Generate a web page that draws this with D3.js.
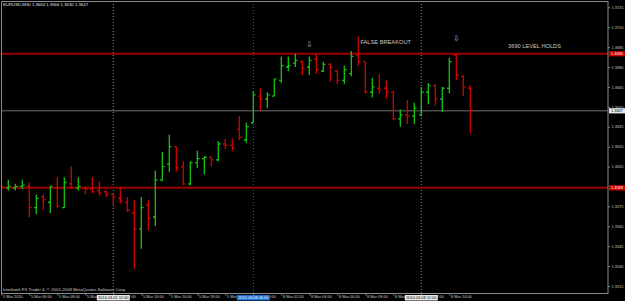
<!DOCTYPE html>
<html>
<head>
<meta charset="utf-8">
<script src="https://cdn.jsdelivr.net/npm/d3@7/dist/d3.min.js"></script>
<style>
  html, body { margin: 0; padding: 0; background: #000; }
  svg { display: block; }
  text { font-family: "Liberation Sans", Arial, sans-serif; }
</style>
</head>
<body>
<div id="chart"></div>
<script>
// EURUSD M30 bars, 5 Mar 04:00 -> 8 Mar 15:30
var opens  = [1.3593,1.3589,1.3589,1.3590,1.3590,1.3574,1.3582,1.3578,1.3589,1.3574,1.3592,1.3589,1.3589,1.3588,1.3587,1.3586,1.3584,1.3581,1.3578,1.3570,
              1.3558,1.3576,1.3567,1.3595,1.3607,1.3620,1.3605,1.3592,1.3608,1.3611,1.3612,1.3610,1.3622,1.3621,1.3633,1.3625,1.3638,1.3658,1.3656,1.3658,
              1.3670,1.3680,1.3683,1.3684,1.3680,1.3686,1.3677,1.3682,1.3677,1.3670,1.3675,1.3689,1.3684,1.3661,1.3664,1.3664,1.3661,1.3641,1.3644,1.3643,
              1.3644,1.3661,1.3666,1.3656,1.3664,1.3689,1.3673,1.3664];
var highs  = [1.3595,1.3595,1.3592,1.3595,1.3593,1.3584,1.3584,1.3590,1.3597,1.3597,1.3605,1.3597,1.3590,1.3597,1.3594,1.3587,1.3584,1.3589,1.3582,1.3580,
              1.3582,1.3580,1.3602,1.3616,1.3629,1.3620,1.3609,1.3609,1.3617,1.3613,1.3612,1.3624,1.3626,1.3626,1.3643,1.3638,1.3662,1.3664,1.3661,1.3671,
              1.3688,1.3688,1.3690,1.3685,1.3688,1.3690,1.3684,1.3683,1.3678,1.3681,1.3692,1.3703,1.3684,1.3672,1.3675,1.3670,1.3662,1.3648,1.3655,1.3653,
              1.3665,1.3668,1.3667,1.3665,1.3687,1.3690,1.3674,1.3666];
var lows   = [1.3587,1.3587,1.3587,1.3588,1.3567,1.3569,1.3572,1.3570,1.3574,1.3574,1.3588,1.3587,1.3584,1.3585,1.3583,1.3582,1.3576,1.3577,1.3571,1.3528,
              1.3543,1.3557,1.3560,1.3594,1.3601,1.3601,1.3591,1.3591,1.3604,1.3599,1.3605,1.3609,1.3618,1.3617,1.3625,1.3623,1.3638,1.3647,1.3649,1.3658,
              1.3668,1.3677,1.3680,1.3674,1.3674,1.3675,1.3676,1.3669,1.3667,1.3667,1.3673,1.3681,1.3660,1.3657,1.3660,1.3656,1.3640,1.3635,1.3637,1.3637,
              1.3643,1.3652,1.3651,1.3646,1.3660,1.3670,1.3658,1.3630];
var closes = [1.3590,1.3590,1.3590,1.3591,1.3574,1.3581,1.3580,1.3590,1.3575,1.3593,1.3589,1.3590,1.3588,1.3586,1.3585,1.3584,1.3582,1.3579,1.3572,1.3558,
              1.3574,1.3566,1.3595,1.3605,1.3620,1.3604,1.3592,1.3608,1.3611,1.3612,1.3610,1.3622,1.3621,1.3619,1.3627,1.3635,1.3659,1.3656,1.3659,1.3671,
              1.3681,1.3681,1.3685,1.3679,1.3685,1.3678,1.3682,1.3680,1.3670,1.3678,1.3688,1.3684,1.3661,1.3665,1.3663,1.3661,1.3641,1.3644,1.3643,1.3649,
              1.3661,1.3666,1.3656,1.3664,1.3684,1.3674,1.3665,1.3647];

var priceTicks = [1.3725,1.3710,1.3695,1.3680,1.3665,1.3650,1.3635,1.3620,1.3605,1.3575,1.3560,1.3545,1.3530,1.3515];
var timeBars   = [0,4,8,12,16,20,24,28,32,36,40,44,48,52,56,60,64];
var timeLabels = ["5 Mar 2010","5 Mar 06:00","5 Mar 08:00","5 Mar 10:00","5 Mar 12:00","5 Mar 14:00","5 Mar 16:00",
                  "5 Mar 18:00","5 Mar 20:00","8 Mar 00:00","8 Mar 02:00","8 Mar 04:00","8 Mar 06:00","8 Mar 08:00",
                  "8 Mar 10:00","8 Mar 12:00","8 Mar 14:00"];
var levelPrices = [1.3690, 1.3589];
var levelLabels = ["1.3690", "1.3589"];
var bidPrice = 1.3647;
var vlineBars   = [16, 36, 60];
var vlineLabels = ["2010.03.05 12:00", "2010.03.08 00:00", "2010.03.08 12:00"];
var vlineColors = ["#8a8a8a", "#1f5fb0", "#8a8a8a"];
var notes = [{text: "FALSE BREAKOUT", bar: 51.3, price: 1.3699}, {text: "3690 LEVEL HOLDS", bar: 72.4, price: 1.36955}];
var arrowBars = [44, 65];
var arrowPrices = [1.3697, 1.37015];

var width = 625, height = 301;
var plotRight = 608, plotBottom = 293.5;

var svg = d3.select("#chart").append("svg")
    .attr("width", width)
    .attr("height", height);

svg.append("rect").attr("width", width).attr("height", height).attr("fill", "#000");

var x = d3.scaleLinear().domain([0, 67]).range([1.3, 470.3]);
var y = d3.scaleLinear().domain([1.3515, 1.3725]).range([286, 7.3]);

svg.append("clipPath").attr("id", "plot")
  .append("rect").attr("x", 1.5).attr("y", 1.5).attr("width", plotRight - 1.5).attr("height", plotBottom - 1.5);

var plot = svg.append("g").attr("clip-path", "url(#plot)");

// vertical lines
plot.selectAll(".vline").data(vlineBars).enter().append("line")
    .attr("x1", function(d) { return x(d); })
    .attr("x2", function(d) { return x(d); })
    .attr("y1", 1).attr("y2", plotBottom)
    .attr("stroke", function(d, i) { return vlineColors[i]; })
    .attr("stroke-width", 1)
    .attr("stroke-dasharray", "1,2");

// levels
plot.selectAll(".level").data(levelPrices).enter().append("line")
    .attr("x1", 0).attr("x2", plotRight)
    .attr("y1", function(d) { return y(d); })
    .attr("y2", function(d) { return y(d); })
    .attr("stroke", "#9a0000")
    .attr("stroke-width", 2);

plot.append("line")
    .attr("x1", 0).attr("x2", plotRight)
    .attr("y1", y(bidPrice)).attr("y2", y(bidPrice))
    .attr("stroke", "#707070")
    .attr("stroke-width", 1);

// bars
var idx = d3.range(opens.length);
var bars = plot.selectAll(".bar").data(idx).enter().append("g")
    .attr("stroke", function(i) { return closes[i] >= opens[i] ? "#14c414" : "#d40000"; })
    .attr("stroke-width", 1.3);
bars.append("line")
    .attr("x1", function(i) { return x(i); }).attr("x2", function(i) { return x(i); })
    .attr("y1", function(i) { return y(highs[i]); }).attr("y2", function(i) { return y(lows[i]); });
bars.append("line")
    .attr("x1", function(i) { return x(i) - 2.3; }).attr("x2", function(i) { return x(i); })
    .attr("y1", function(i) { return y(opens[i]); }).attr("y2", function(i) { return y(opens[i]); });
bars.append("line")
    .attr("x1", function(i) { return x(i); }).attr("x2", function(i) { return x(i) + 2.3; })
    .attr("y1", function(i) { return y(closes[i]); }).attr("y2", function(i) { return y(closes[i]); });

// annotations
plot.selectAll(".note").data(notes).enter().append("text")
    .attr("x", function(d) { return x(d.bar); })
    .attr("y", function(d) { return y(d.price); })
    .attr("dy", "0.35em")
    .attr("fill", "#c8c8c8")
    .attr("font-size", 5.7)
    .text(function(d) { return d.text; });

plot.selectAll(".arrow").data(arrowBars).enter().append("text")
    .attr("x", function(d) { return x(d); })
    .attr("y", function(d, i) { return y(arrowPrices[i]); })
    .attr("dy", "0.35em")
    .attr("text-anchor", "middle")
    .attr("fill", "#9ab4b4")
    .attr("font-family", "DejaVu Sans")
    .attr("font-size", 8)
    .text("\u21e9");

// header + footer
svg.append("text").attr("x", 3).attr("y", 5.8).attr("fill", "#e0e0e0").attr("font-size", 4.3)
    .text("EURUSD,M30  1.3664 1.3666 1.3630 1.3647");
svg.append("text").attr("x", 2.7).attr("y", 290.8).attr("fill", "#c8c8c8").attr("font-size", 4.3)
    .text("Interbank FX Trader 4, \u00a9 2001-2008 MetaQuotes Software Corp.");

// frame
svg.append("rect").attr("x", 1.5).attr("y", 1.5).attr("width", plotRight - 1.5).attr("height", plotBottom - 1.5)
    .attr("fill", "none").attr("stroke", "#8a8a8a").attr("stroke-width", 1);

// price axis
var yAxis = d3.axisRight(y).tickValues(priceTicks).tickSize(2).tickPadding(1.5).tickFormat(d3.format(".4f"));
var ya = svg.append("g").attr("transform", "translate(" + plotRight + ",0)").call(yAxis);
ya.select(".domain").remove();
ya.selectAll("line").attr("stroke", "#8a8a8a");
ya.selectAll("text").attr("fill", "#c8c8c8").attr("font-size", 3.9).attr("font-family", "Liberation Sans");

// level and bid boxes on price axis
var boxes = levelPrices.map(function(p, i) { return {p: p, t: levelLabels[i], bg: "#d00000", fg: "#fff"}; });
boxes.push({p: bidPrice, t: "1.3647", bg: "#e8e8e8", fg: "#000"});
var bx = svg.selectAll(".pbox").data(boxes).enter().append("g");
bx.append("rect").attr("x", 609).attr("y", function(d) { return y(d.p) - 2.6; })
    .attr("width", 16).attr("height", 5.2).attr("fill", function(d) { return d.bg; });
bx.append("text").attr("x", 611).attr("y", function(d) { return y(d.p); }).attr("dy", "0.35em")
    .attr("font-size", 3.9).attr("fill", function(d) { return d.fg; }).text(function(d) { return d.t; });

// time axis
var xAxis = d3.axisBottom(x).tickValues(timeBars).tickSize(2).tickFormat(function(d, i) { return timeLabels[i]; });
var xa = svg.append("g").attr("transform", "translate(0," + plotBottom + ")").call(xAxis);
xa.select(".domain").remove();
xa.selectAll("line").attr("stroke", "#8a8a8a");
xa.selectAll("text").attr("fill", "#c8c8c8").attr("font-size", 3.9).attr("font-family", "Liberation Sans")
    .attr("text-anchor", "start").attr("dx", 1.2).attr("y", 1.6);

var tb = svg.selectAll(".tbox").data(vlineBars).enter().append("g");
tb.append("rect").attr("x", function(d) { return x(d) - 16.5; }).attr("y", 295)
    .attr("width", 33).attr("height", 5.5)
    .attr("fill", function(d, i) { return i === 1 ? "#1f6fd0" : "#e8e8e8"; });
tb.append("text").attr("x", function(d) { return x(d); }).attr("y", 297.8).attr("dy", "0.35em")
    .attr("text-anchor", "middle").attr("font-size", 3.9)
    .attr("fill", function(d, i) { return i === 1 ? "#fff" : "#000"; })
    .text(function(d, i) { return vlineLabels[i]; });
</script>
</body>
</html>
